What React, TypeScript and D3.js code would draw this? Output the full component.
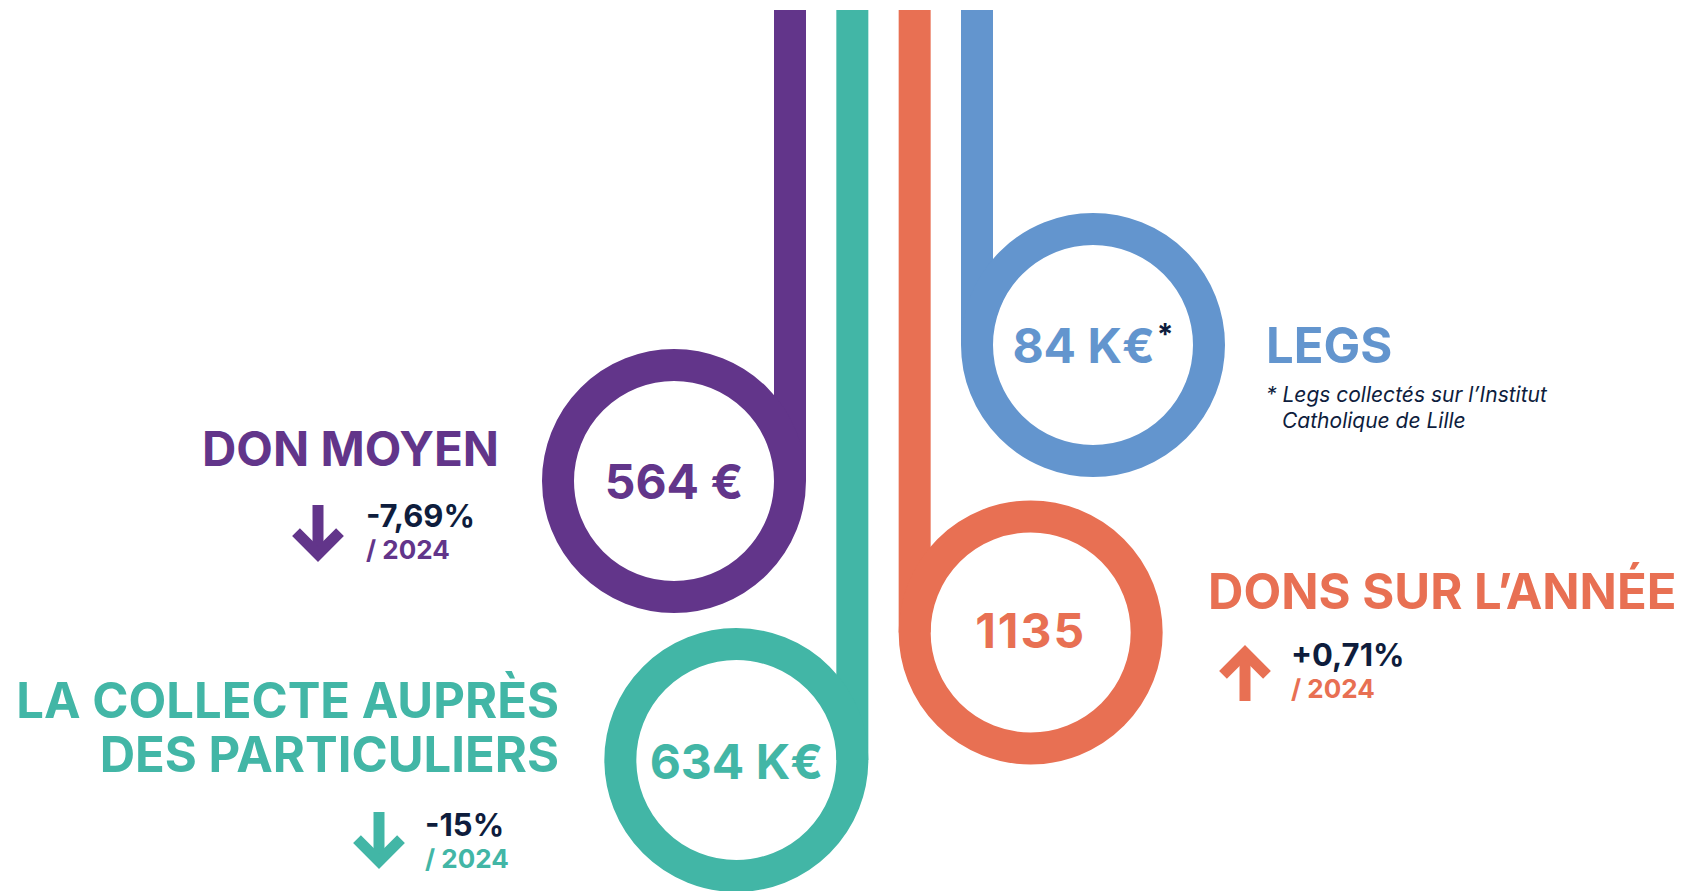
import React from "react";
import * as d3 from "d3";

// chart values
const keys = ["moyen", "collecte", "dons", "legs"];
const values = ["564 €", "634 K€", "1135", "84 K€"];
const titles = [["DON MOYEN"], ["LA COLLECTE AUPRÈS", "DES PARTICULIERS"], ["DONS SUR L’ANNÉE"], ["LEGS"]];
const changes = ["-7,69%", "-15%", "+0,71%", null];
const trend = ["down", "down", "up", null];
const compareYear = "/ 2024";
const footnote = ["* Legs collectés sur l’Institut", "Catholique de Lille"];

const colors = ["#62358a", "#42b6a6", "#e87053", "#6395ce"];
const NAVY = "#0e1d3d";
const FONT = "Inter, 'Noto Sans', sans-serif";

const WIDTH = 1686;
const HEIGHT = 891;
const RING_R = 116;
const STROKE = 32;
const TOP = 10;

// layout of each "letter": side of the loop, loop centre y, label placement
const layout = [
  { side: -1, cy: 481, vy: 18, title: { x: 499, y: 466, anchor: "end", size: 47.5 }, change: { x: 366, y: 527, ax: 318, ay0: 505, ay1: 562 } },
  { side: -1, cy: 760, vy: 19, title: { x: 559, y: 718, anchor: "end", size: 49 }, change: { x: 425, y: 836, ax: 379, ay0: 812, ay1: 869 } },
  { side: 1, cy: 632.5, vy: 15, title: { x: 1208, y: 609, anchor: "start", size: 49 }, change: { x: 1291, y: 666, ax: 1245, ay0: 645, ay1: 701 } },
  { side: 1, cy: 345, vy: 18, title: { x: 1266, y: 363, anchor: "start", size: 49 }, change: null },
];

const Arrow = ({ x, y0, y1, dir, color }) => {
  const t = 11;
  const a = 22;
  const d = t * 0.707;
  let tip, stemEnd, arms;
  if (dir === "down") {
    tip = y1 - d;
    arms = `M${x - a},${tip - a} L${x},${tip} L${x + a},${tip - a}`;
    stemEnd = `M${x},${y0} L${x},${tip - 2}`;
  } else {
    tip = y0 + d;
    arms = `M${x - a},${tip + a} L${x},${tip} L${x + a},${tip + a}`;
    stemEnd = `M${x},${y1} L${x},${tip + 2}`;
  }
  return (
    <g stroke={color} strokeWidth={t} fill="none" strokeLinejoin="miter" strokeLinecap="butt">
      <path d={stemEnd} />
      <path d={arms} />
    </g>
  );
};

export default function App() {
  const stemX = d3.scalePoint().domain(keys).range([790, 977]);

  return (
    <svg
      width={WIDTH}
      height={HEIGHT}
      style={{ position: "absolute", left: 0, top: 0, background: "#fff" }}
      fontFamily={FONT}
    >
      {keys.map((k, i) => {
        const L = layout[i];
        const sx = stemX(k);
        const cx = sx + L.side * RING_R;
        const color = colors[i];
        return (
          <g key={k}>
            <line x1={sx} x2={sx} y1={TOP} y2={L.cy} stroke={color} strokeWidth={STROKE} />
            <circle cx={cx} cy={L.cy} r={RING_R} fill="none" stroke={color} strokeWidth={STROKE} />
            <text
              x={cx}
              y={L.cy + L.vy}
              textAnchor="middle"
              fontSize={48}
              fontWeight={700}
              fill={color}
              letterSpacing={i === 2 ? 2 : 0}
            >
              {values[i]}
              {i === 3 ? (
                <tspan fill={NAVY} fontSize={30} dy={-18} dx={2}>*</tspan>
              ) : null}
            </text>
            <text
              x={L.title.x}
              y={L.title.y}
              textAnchor={L.title.anchor}
              fontSize={L.title.size}
              fontWeight={700}
              fill={color}
            >
              {titles[i].map((t, j) => (
                <tspan key={j} x={L.title.x} dy={j === 0 ? 0 : 54}>{t}</tspan>
              ))}
            </text>
            {L.change && (
              <g>
                <Arrow x={L.change.ax} y0={L.change.ay0} y1={L.change.ay1} dir={trend[i]} color={color} />
                <text x={L.change.x} y={L.change.y} fontSize={31} fontWeight={700} fill={NAVY}>
                  {changes[i]}
                </text>
                <text x={L.change.x} y={L.change.y + 32} fontSize={26} fontWeight={700} fill={color}>
                  {compareYear}
                </text>
              </g>
            )}
          </g>
        );
      })}
      <text x={1266} y={402} fontSize={21} fontStyle="italic" fontWeight={400} fill={NAVY}>
        {footnote[0]}
      </text>
      <text x={1282} y={428} fontSize={21} fontStyle="italic" fontWeight={400} fill={NAVY}>
        {footnote[1]}
      </text>
    </svg>
  );
}
